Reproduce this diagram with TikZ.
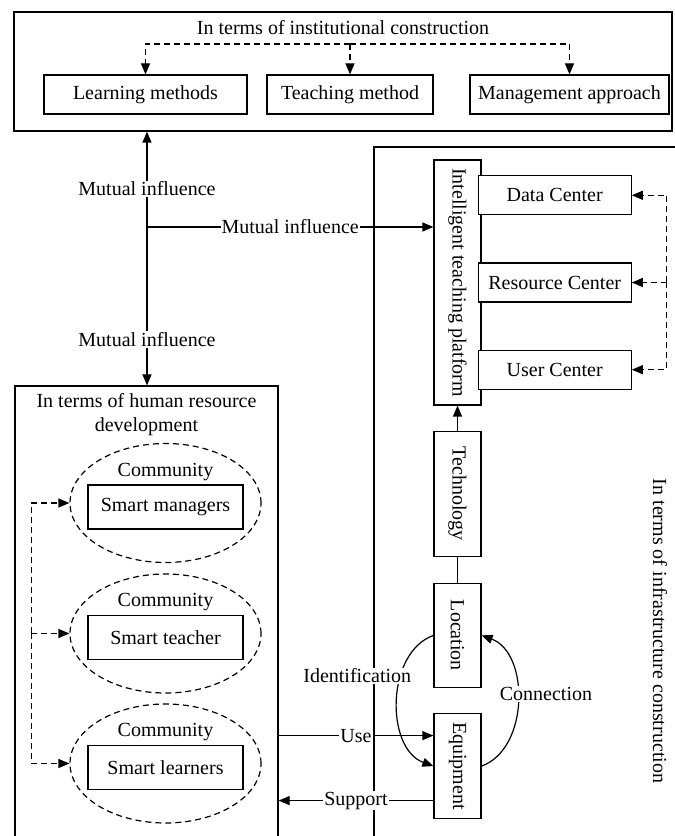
\documentclass[tikz,border=0pt]{standalone}
\usepackage{fontspec}
\setmainfont{Liberation Serif}
\usetikzlibrary{arrows.meta,positioning,shapes.geometric,calc}

\begin{document}
\begin{tikzpicture}[x=1pt,y=1pt,>={Triangle[length=11pt,width=9pt]},line width=1.2pt,
  every node/.style={font=\fontsize{20}{24}\selectfont},
  box/.style={draw,fill=white,minimum height=39pt,inner sep=2pt},
  vbox/.style={draw,fill=white,minimum width=47pt,inner sep=2pt},
  frame/.style={draw,inner sep=0pt},
  dashline/.style={dash pattern=on 6pt off 4pt},
  group/.style={draw,ellipse,dashline,minimum width=191pt,minimum height=119pt,inner sep=0pt},
  tag/.style={fill=white,inner sep=1pt}]
  \useasboundingbox (0,0) rectangle (675,836);

  % frames
  \node[frame,minimum width=658pt,minimum height=119pt] (inst) at (343,764.5) {};
  \node[frame,minimum width=263pt,minimum height=460pt] (hr) at (146.5,220) {};
  \draw (374,-10) -- (374,689) -- (700,689);

  % institutional construction
  \node (insttitle) at (343,808) {In terms of institutional construction};
  \node[box,minimum width=203pt] (learn) at (145.5,741.5) {Learning methods};
  \node[box,minimum width=166pt] (teach) at (350,741.5) {Teaching method};
  \node[box,minimum width=199pt] (manage) at (569.5,741.5) {Management approach};
  \coordinate (split) at (teach.north |- 0,792);
  \draw[dashline,->] (split) -- (teach);
  \draw[dashline,->] (split) -| (learn);
  \draw[dashline,->] (split) -| (manage);

  % human resource development
  \node[align=center] (hrtitle) at (146.5,421) {In terms of human resource\\development};
  \node[group] (g1) at (165.5,333) {};
  \node[group] (g2) at (165.5,202.5) {};
  \node[group] (g3) at (165.5,72.5) {};
  \node[box,minimum width=155pt,minimum height=44pt] (mgr) at (165.5,329) {Smart managers};
  \node[box,minimum width=155pt,minimum height=44pt] (tch) at (165.5,198.5) {Smart teacher};
  \node[box,minimum width=155pt,minimum height=44pt] (lrn) at (165.5,68.5) {Smart learners};
  \node[above=0pt of mgr] (com1) {Community};
  \node[above=0pt of tch] (com2) {Community};
  \node[above=0pt of lrn] (com3) {Community};
  \coordinate (gbus) at ($(g2.west)+(-38,0)$);
  \draw[dashline,->] (gbus) -- (g2);
  \draw[dashline,->] (gbus) |- (g1);
  \draw[dashline,->] (gbus) |- (g3);

  % infrastructure construction
  \node[vbox,minimum height=245pt] (plat) at (457.5,553.5) {\rotatebox{-90}{Intelligent teaching platform}};
  \node[box,minimum width=153pt] (res) [right=-4pt of plat] {Resource Center};
  \node[box,minimum width=153pt] (data) [above=47pt of res] {Data Center};
  \node[box,minimum width=153pt] (user) [below=47pt of res] {User Center};
  \node[vbox,minimum height=125pt] (tech) [below=25pt of plat] {\rotatebox{-90}{Technology}};
  \node[vbox,minimum height=104pt] (loc) [below=26pt of tech] {\rotatebox{-90}{Location}};
  \node[vbox,minimum height=105pt] (equip) [below=25pt of loc] {\rotatebox{-90}{Equipment}};
  \node (infratitle) at (660,205) {\rotatebox{-90}{In terms of infrastructure construction}};
  \coordinate (cbus) at ($(res.east)+(35,0)$);
  \draw[dashline,->] (cbus) -- (res);
  \draw[dashline,->] (cbus) |- (data);
  \draw[dashline,->] (cbus) |- (user);

  % links between the three sides
  \coordinate (hub) at (147,609);
  \draw[->] (hub) -- node[tag,pos=0.4] (mi1) {Mutual influence} (hub |- inst.south);
  \draw[->] (hub) -- node[tag,pos=0.71] (mi2) {Mutual influence} (hub |- hr.north);
  \draw[->] (hub) -- node[tag] (mi3) {Mutual influence} (hub -| plat.west);
  \draw[->] (tech) -- (plat);
  \draw (tech) -- (loc);
  \draw[->] (loc.west) to[out=200,in=160] node[tag,pos=0.35,anchor=east,xshift=12pt] (idlbl) {Identification} (equip.west);
  \draw[->] (equip.east) to[out=20,in=-20] node[tag,pos=0.54,anchor=west,xshift=-19pt] (conlbl) {Connection} (loc.east);
  \coordinate (usept) at ($(equip.west)+(0,30.5)$);
  \draw[->] (usept -| hr.east) -- node[tag] (uselbl) {Use} (usept);
  \coordinate (suppt) at ($(equip.west)+(0,-34.5)$);
  \draw[->] (suppt) -- node[tag] (suplbl) {Support} (suppt -| hr.east);
\end{tikzpicture}
\end{document}
